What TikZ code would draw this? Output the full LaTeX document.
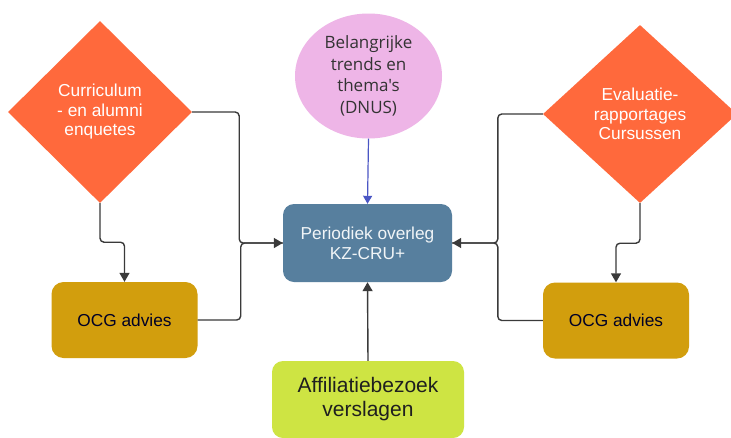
\documentclass[tikz,border=0pt]{standalone}
\usepackage{fontspec}
\setmainfont{Liberation Sans}
\newfontfamily\opensans{Open Sans}
\usetikzlibrary{shapes.geometric,arrows.meta}
\definecolor{orangeC}{HTML}{FF693C}
\definecolor{pinkC}{HTML}{EEB5E7}
\definecolor{blueC}{HTML}{577F9E}
\definecolor{goldC}{HTML}{D29E0D}
\definecolor{greenC}{HTML}{CEE443}
\definecolor{arrowBlue}{HTML}{4A56C4}
\definecolor{lineC}{HTML}{3A3A3A}
\begin{document}
\begin{tikzpicture}[x=1pt,y=-1pt,
  dia/.style={diamond,fill=orangeC,inner sep=0pt,aspect=1,text=white,align=center,
    font=\fontsize{17.3}{19.5}\selectfont},
  ocg/.style={rectangle,rounded corners=12pt,fill=goldC,minimum width=146pt,minimum height=76pt,
    text=black!85!blue,font=\fontsize{17.3}{20}\selectfont},
  conn/.style={draw=lineC,line width=1.4pt,rounded corners=4pt},
  tip/.style={-{Triangle[length=9pt,width=10pt]}}
]
\useasboundingbox (0,0) rectangle (731,437);
\fill[white] (0,0) rectangle (731,437);

\node[ellipse,fill=pinkC,inner sep=0pt,minimum width=147pt,minimum height=125pt,
  text=black!80,align=center,font=\opensans\fontsize{17}{21.5}\selectfont]
  (circ) at (368.5,76) {Belangrijke\\trends en\\thema's\\(DNUS)};

\node[rectangle,rounded corners=11pt,fill=blueC,minimum width=169pt,minimum height=78pt,
  text=white!92!blueC,align=center,font=\fontsize{17.3}{20}\selectfont]
  (center) at (367.5,243) {Periodiek overleg\\KZ-CRU+};

\node[dia,minimum width=184pt,minimum height=182pt] (diaL) at (100,112)
  {Curriculum\\- en alumni\\enquetes};
\node[dia,minimum width=194pt,minimum height=178pt] (diaR) at (640,114)
  {Evaluatie-\\rapportages\\Cursussen};

\node[ocg] (ocgL) at (124.5,320) {OCG advies};
\node[ocg] (ocgR) at (616,320.5) {OCG advies};

\node[rectangle,rounded corners=11pt,fill=greenC,minimum width=192pt,minimum height=77pt,
  text=black!88,align=center,font=\fontsize{21}{24}\selectfont]
  (green) at (368,399.5) {Affiliatiebezoek\\verslagen};

% connectors
\draw[draw=arrowBlue,line width=1.2pt,-{Triangle[length=8pt,width=9pt]}] (circ.south) -- (center.north);
\draw[conn,tip] (green.north) -- (center.south);

\draw[conn,tip] (diaL.east) -- ++(47,0) |- (center.west);
\draw[conn] (ocgL.east) -- ++(43,0) |- (center.west);
\draw[conn,tip] (diaL.south) -- ++(0,39) -| (ocgL.north);

\draw[conn,tip] (diaR.west) -- ++(-45,0) |- (center.east);
\draw[conn] (ocgR.west) -- ++(-45,0) |- (center.east);
\draw[conn,tip] (diaR.south) -- ++(0,40) -| (ocgR.north);
\end{tikzpicture}
\end{document}
